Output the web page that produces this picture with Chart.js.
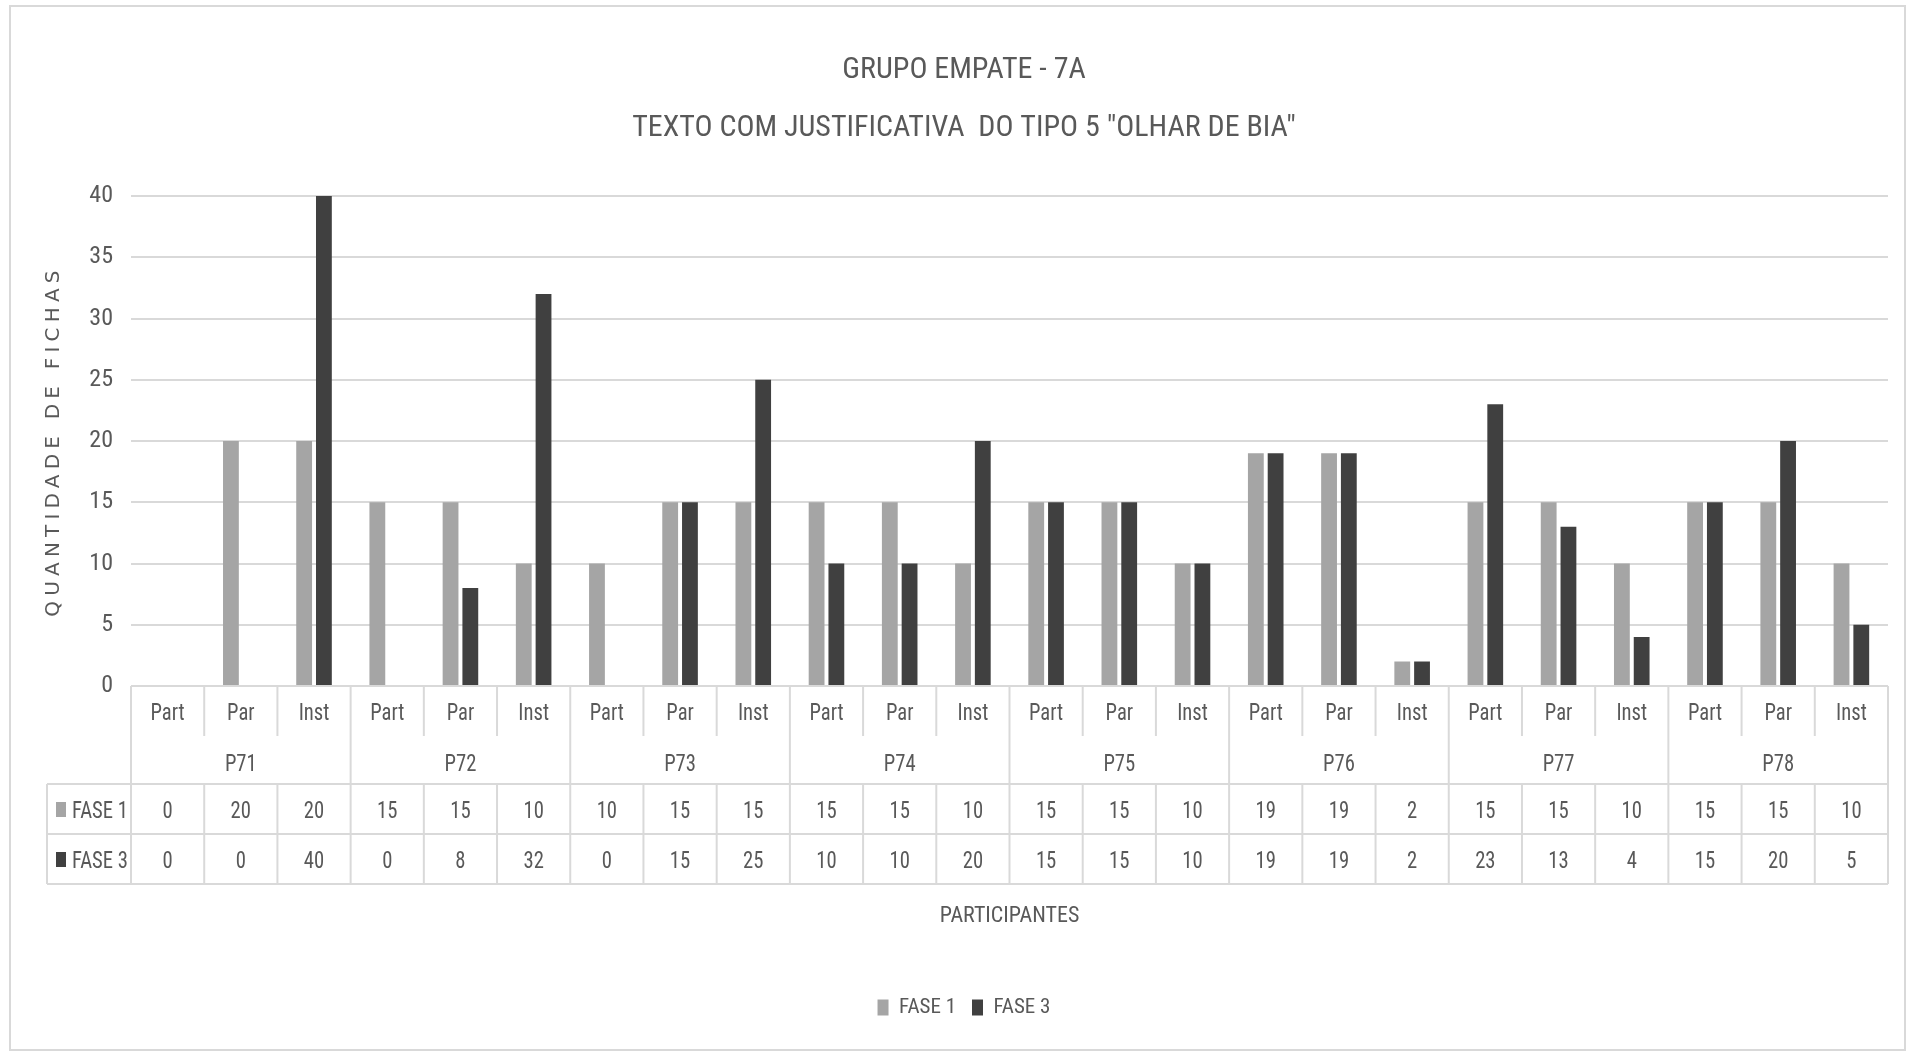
<!DOCTYPE html>
<html>
<head>
<meta charset="utf-8">
<title>Grupo Empate - 7A</title>
<script src="https://cdn.jsdelivr.net/npm/chart.js@4.4.1/dist/chart.umd.min.js"></script>
<style>
  html, body { margin: 0; padding: 0; background: #ffffff; }
  canvas { display: block; }
</style>
</head>
<body>
<canvas id="chart" width="1907" height="1052"></canvas>
<script>
// Participants (outer level) and the three answer types under each of them
const groupLabels = ['P71', 'P72', 'P73', 'P74', 'P75', 'P76', 'P77', 'P78'];
const subLabels = [
  'Part', 'Par', 'Inst', 'Part', 'Par', 'Inst', 'Part', 'Par', 'Inst', 'Part', 'Par', 'Inst',
  'Part', 'Par', 'Inst', 'Part', 'Par', 'Inst', 'Part', 'Par', 'Inst', 'Part', 'Par', 'Inst'
];

// Number of tokens per phase
const fase1 = [0, 20, 20, 15, 15, 10, 10, 15, 15, 15, 15, 10, 15, 15, 10, 19, 19, 2, 15, 15, 10, 15, 15, 10];
const fase3 = [0, 0, 40, 0, 8, 32, 0, 15, 25, 10, 10, 20, 15, 15, 10, 19, 19, 2, 23, 13, 4, 15, 20, 5];

const seriesNames = ['FASE 1', 'FASE 3'];
const titleLines = ['GRUPO EMPATE - 7A', 'TEXTO COM JUSTIFICATIVA  DO TIPO 5 "OLHAR DE BIA"'];
const yAxisTitle = 'QUANTIDADE DE FICHAS';
const xAxisTitle = 'PARTICIPANTES';

const categories = subLabels.map((s, i) => [s, groupLabels[Math.floor(i / 3)]]);

const FONT = "'Roboto Condensed', 'DejaVu Sans Condensed', sans-serif";
const WEIGHT = 400;
const INK = '#595959';
const RULE = '#d9d9d9';
const LIGHT = '#a5a5a5';
const DARK = '#404040';

// Thin frame round the whole chart
const framePlugin = {
  id: 'frame',
  beforeDraw(chart) {
    const { ctx, width, height } = chart;
    ctx.save();
    ctx.strokeStyle = RULE;
    ctx.lineWidth = 2;
    ctx.strokeRect(10, 6, width - 12, height - 8);
    ctx.restore();
  }
};

// Vertical axis title, drawn with letter spacing
const yTitlePlugin = {
  id: 'yTitle',
  afterDraw(chart) {
    const { ctx, chartArea } = chart;
    ctx.save();
    ctx.translate(54, (chartArea.top + chartArea.bottom) / 2);
    ctx.rotate(-Math.PI / 2);
    ctx.font = "20px 'DejaVu Sans', sans-serif";
    if ('letterSpacing' in ctx) ctx.letterSpacing = '5.2px';
    ctx.fillStyle = INK;
    ctx.textAlign = 'center';
    ctx.textBaseline = 'middle';
    ctx.fillText(yAxisTitle, 0, 0);
    ctx.restore();
  }
};

// Category axis with the data table underneath it
const dataTablePlugin = {
  id: 'dataTable',
  afterDraw(chart) {
    const { ctx, chartArea } = chart;
    const x = chart.scales.x;
    const n = subLabels.length;
    const step = x.getPixelForValue(1) - x.getPixelForValue(0);
    const edge = i => x.getPixelForValue(0) - step / 2 + i * step;
    const right = edge(n);
    const top = chartArea.bottom;
    const y1 = top + 50;   // bottom of answer-type row
    const y2 = y1 + 48;    // bottom of participant row
    const y3 = y2 + 50;    // bottom of FASE 1 row
    const y4 = y3 + 50;    // bottom of FASE 3 row
    const labelLeft = 47;
    const base = 9;        // baseline offset below a row's middle
    const squeeze = 0.86;  // narrow the cell text horizontally

    const line = (ax, ay, bx, by) => {
      ctx.beginPath();
      ctx.moveTo(ax, ay);
      ctx.lineTo(bx, by);
      ctx.stroke();
    };
    const text = (s, px, py, align) => {
      ctx.save();
      ctx.translate(px, py);
      ctx.scale(squeeze, 1);
      ctx.textAlign = align;
      ctx.fillText(s, 0, 0);
      ctx.restore();
    };

    ctx.save();
    ctx.strokeStyle = RULE;
    ctx.lineWidth = 2;
    for (let i = 0; i <= n; i++) {
      const xx = edge(i);
      if (i % 3 === 0) {
        line(xx, top, xx, y4);
      } else {
        line(xx, top, xx, y1);
        line(xx, y2, xx, y4);
      }
    }
    line(labelLeft, y2, right, y2);
    line(labelLeft, y3, right, y3);
    line(labelLeft, y4, right, y4);
    line(labelLeft, y2, labelLeft, y4);

    ctx.fillStyle = INK;
    ctx.font = WEIGHT + ' 24px ' + FONT;
    ctx.textBaseline = 'alphabetic';
    for (let i = 0; i < n; i++) {
      const cx = x.getPixelForValue(i);
      text(subLabels[i], cx, (top + y1) / 2 + base, 'center');
      text(String(fase1[i]), cx, (y2 + y3) / 2 + base, 'center');
      text(String(fase3[i]), cx, (y3 + y4) / 2 + base, 'center');
    }
    for (let g = 0; g < groupLabels.length; g++) {
      text(groupLabels[g], (edge(g * 3) + edge(g * 3 + 3)) / 2, (y1 + y2) / 2 + base + 2, 'center');
    }

    // Row headers with the series swatches
    const rows = [[(y2 + y3) / 2, 0], [(y3 + y4) / 2, 1]];
    rows.forEach(([cy, d]) => {
      const ds = chart.data.datasets[d];
      ctx.fillStyle = ds.backgroundColor;
      ctx.fillRect(56, cy - 7, 10, 15);
      ctx.fillStyle = INK;
      text(ds.label, 72, cy + base, 'left');
    });
    ctx.restore();
  }
};

new Chart(document.getElementById('chart'), {
  type: 'bar',
  data: {
    labels: categories,
    datasets: [
      { label: seriesNames[0], data: fase1, backgroundColor: LIGHT, categoryPercentage: 0.54, barPercentage: 0.8 },
      { label: seriesNames[1], data: fase3, backgroundColor: DARK, categoryPercentage: 0.54, barPercentage: 0.8 }
    ]
  },
  options: {
    responsive: false,
    animation: false,
    layout: { padding: { top: 0, left: 40, right: 19, bottom: 24 } },
    plugins: {
      title: {
        display: true,
        text: titleLines,
        color: INK,
        font: { family: FONT, size: 30, weight: WEIGHT, lineHeight: 58 / 30 },
        padding: { top: 41, bottom: 39 }
      },
      legend: {
        position: 'bottom',
        labels: {
          boxWidth: 11,
          boxHeight: 16,
          padding: 16,
          color: INK,
          font: { family: FONT, size: 21, weight: WEIGHT }
        }
      },
      tooltip: { enabled: true }
    },
    scales: {
      x: {
        ticks: { display: false },
        grid: { display: false },
        border: { display: false },
        title: {
          display: true,
          text: xAxisTitle,
          color: INK,
          font: { family: FONT, size: 22, weight: WEIGHT },
          padding: { top: 0, bottom: 51 }
        },
        afterFit(scale) { scale.height = 295; }
      },
      y: {
        min: 0,
        max: 40,
        ticks: { stepSize: 5, padding: 18, color: INK, font: { family: FONT, size: 24, weight: WEIGHT } },
        grid: { color: RULE, lineWidth: 2, drawTicks: false },
        border: { display: false },
        afterFit(scale) { scale.width = 91; }
      }
    }
  },
  plugins: [framePlugin, yTitlePlugin, dataTablePlugin]
});
</script>
</body>
</html>
